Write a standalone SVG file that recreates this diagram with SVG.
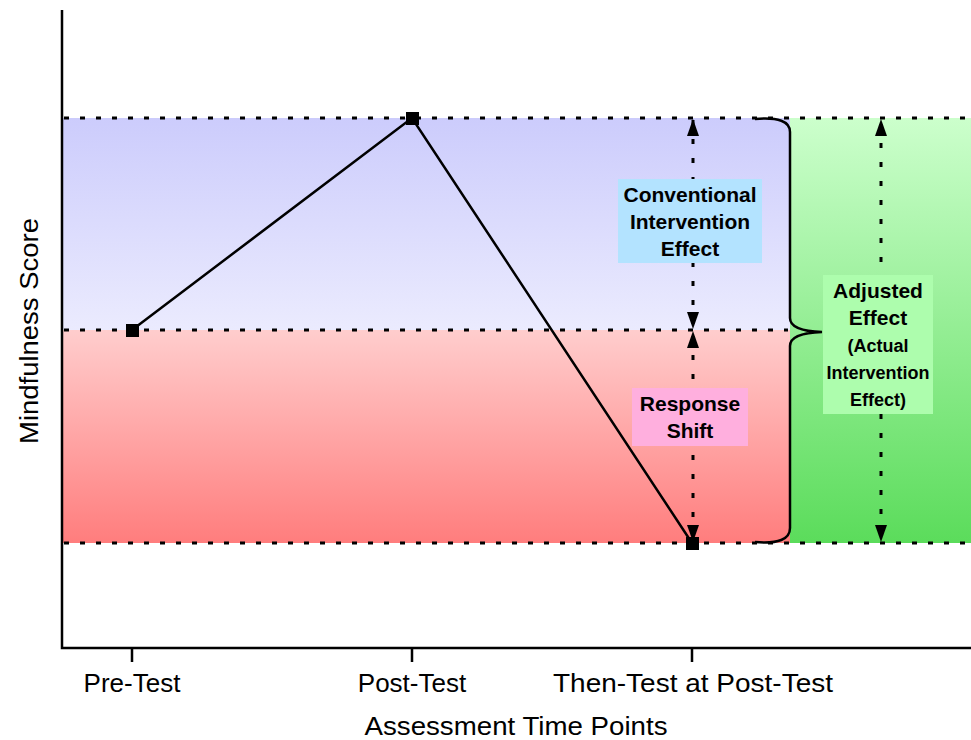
<svg xmlns="http://www.w3.org/2000/svg" width="971" height="740" viewBox="0 0 971 740">
<defs>
<linearGradient id="gBlue" x1="0" y1="0" x2="0" y2="1"><stop offset="0" stop-color="#ccccfc"/><stop offset="1" stop-color="#ebebfe"/></linearGradient>
<linearGradient id="gRed" x1="0" y1="0" x2="0" y2="1"><stop offset="0" stop-color="#ffcdcd"/><stop offset="1" stop-color="#ff7d7d"/></linearGradient>
<linearGradient id="gGreen" x1="0" y1="0" x2="0" y2="1"><stop offset="0" stop-color="#ccffcc"/><stop offset="1" stop-color="#5bdc5b"/></linearGradient>
<marker id="ah" viewBox="0 0 17 12" refX="17" refY="6" markerWidth="17" markerHeight="12" markerUnits="userSpaceOnUse" orient="auto"><path d="M0,0 L17,6 L0,12 Z" fill="#000"/></marker>
<style>
.axis{stroke:#000;stroke-width:2.5;fill:none}
.dotH{stroke:#000;stroke-width:3;stroke-dasharray:5 11;fill:none}
.dotV{stroke:#000;stroke-width:3;stroke-dasharray:5 14;fill:none}
.ax{font-family:"Liberation Sans",Arial,sans-serif;font-size:26px;fill:#000}
.lb{font-family:"Liberation Sans",Arial,sans-serif;font-weight:bold;font-size:21px;fill:#000;text-anchor:middle}
.lbs{font-family:"Liberation Sans",Arial,sans-serif;font-weight:bold;font-size:18px;fill:#000;text-anchor:middle}
.mk{fill:#000}
</style>
</defs>
<rect width="971" height="740" fill="#fff"/>
<g id="regions">
<rect x="62" y="118" width="728" height="212" fill="url(#gBlue)"/>
<rect x="62" y="330" width="728" height="213" fill="url(#gRed)"/>
<rect x="790" y="118" width="181" height="425" fill="url(#gGreen)"/>
</g>
<g id="gridlines">
<line class="dotH" x1="64" y1="118" x2="971" y2="118"/>
<line class="dotH" x1="64" y1="330" x2="788" y2="330"/>
<line class="dotH" x1="64" y1="543" x2="971" y2="543"/>
</g>
<g id="axes">
<path class="axis" d="M62,10 L62,648 L971,648"/>
<path class="axis" d="M132,648 V662 M412,648 V662 M692,648 V662"/>
<text class="ax" x="132" y="692" text-anchor="middle">Pre-Test</text>
<text class="ax" x="412" y="692" text-anchor="middle">Post-Test</text>
<text class="ax" x="693" y="692" text-anchor="middle" textLength="280" lengthAdjust="spacingAndGlyphs">Then-Test at Post-Test</text>
<text class="ax" x="516" y="735" text-anchor="middle" textLength="303" lengthAdjust="spacingAndGlyphs">Assessment Time Points</text>
<text class="ax" x="38" y="331" text-anchor="middle" transform="rotate(-90 38 331)" textLength="226" lengthAdjust="spacingAndGlyphs">Mindfulness Score</text>
</g>
<g id="brace">
<path d="M755,119 Q790,116 790,132 L790,318 Q790,331 822,332 Q790,333 790,346 L790,528 Q790,545 755,542" fill="none" stroke="#000" stroke-width="2.5"/>
</g>
<g id="connectors">
<polyline points="132,330 412,118 692,543" fill="none" stroke="#000" stroke-width="2.5"/>
<line class="dotV" x1="693" y1="220" x2="693" y2="119" marker-end="url(#ah)"/>
<line class="dotV" x1="693" y1="224" x2="693" y2="329" marker-end="url(#ah)"/>
<line class="dotV" x1="693" y1="436" x2="693" y2="331" marker-end="url(#ah)"/>
<line class="dotV" x1="693" y1="436" x2="693" y2="542" marker-end="url(#ah)"/>
<line class="dotV" x1="881" y1="300" x2="881" y2="119" marker-end="url(#ah)"/>
<line class="dotV" x1="881" y1="300" x2="881" y2="542" marker-end="url(#ah)"/>
</g>
<g id="markers">
<rect id="pre" class="mk" x="126" y="324" width="13" height="13"/>
<rect id="post" class="mk" x="406" y="112" width="13" height="13"/>
<rect id="then" class="mk" x="686" y="537" width="13" height="13"/>
</g>
<g id="label-conventional">
<rect x="618" y="179" width="144" height="84" fill="#b3e3ff"/>
<text class="lb" x="690" y="202">Conventional</text>
<text class="lb" x="690" y="229">Intervention</text>
<text class="lb" x="690" y="256">Effect</text>
</g>
<g id="label-response">
<rect x="632" y="388" width="116" height="58" fill="#ffafde"/>
<text class="lb" x="690" y="411">Response</text>
<text class="lb" x="690" y="438">Shift</text>
</g>
<g id="label-adjusted">
<rect x="823" y="275" width="110" height="139" fill="#adfdad"/>
<text class="lb" x="878" y="298">Adjusted</text>
<text class="lb" x="878" y="325">Effect</text>
<text class="lbs" x="878" y="352">(Actual</text>
<text class="lbs" x="878" y="379">Intervention</text>
<text class="lbs" x="878" y="406">Effect)</text>
</g>
</svg>
